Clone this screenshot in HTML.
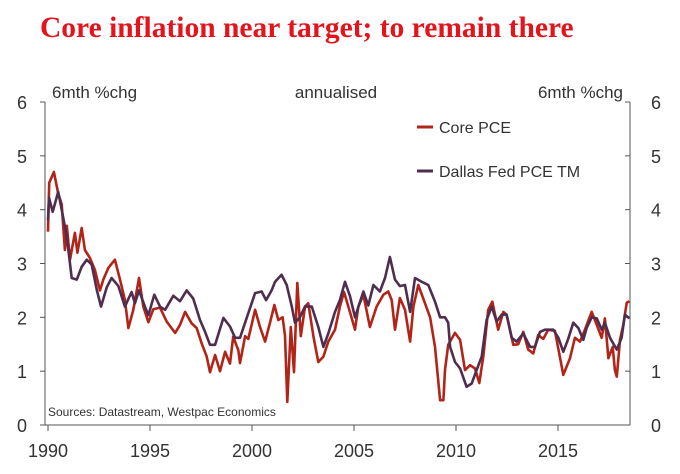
<!DOCTYPE html>
<html><head><meta charset="utf-8"><style>
html,body{margin:0;padding:0;background:#fff;}
svg{display:block;font-family:"Liberation Sans",sans-serif;}
</style></head><body>
<svg id="chart" width="680" height="474" viewBox="0 0 680 474" xmlns="http://www.w3.org/2000/svg">
<text x="40" y="37" font-family="Liberation Serif, serif" font-weight="bold" font-size="29.5" fill="#E3141B">Core inflation near target; to remain there</text>
<text x="52" y="98" font-size="17" fill="#333">6mth %chg</text>
<text x="336" y="98" font-size="17" fill="#333" text-anchor="middle">annualised</text>
<text x="623" y="98" font-size="17" fill="#333" text-anchor="end">6mth %chg</text>
<g id="axes"></g>
<g id="series"></g>
<g>
<line x1="417" y1="127" x2="433" y2="127" stroke="#B22418" stroke-width="3"/>
<text x="439" y="133" font-size="16" fill="#333">Core PCE</text>
<line x1="417" y1="171" x2="433" y2="171" stroke="#4F2D4F" stroke-width="3"/>
<text x="439" y="177" font-size="16" fill="#333">Dallas Fed PCE TM</text>
</g>
<text x="48" y="416" font-size="12" fill="#333">Sources: Datastream, Westpac Economics</text>
</svg>
<script>
const yTicks=[0,1,2,3,4,5,6];
const xTicks=[1990,1995,2000,2005,2010,2015];
const coreDates=[1990.0,1990.06,1990.29,1990.5,1990.67,1990.83,1990.92,1991.08,1991.32,1991.44,1991.65,1991.81,1992.06,1992.3,1992.55,1992.71,1992.96,1993.28,1993.53,1993.77,1993.94,1994.18,1994.46,1994.67,1994.92,1995.16,1995.49,1995.82,1996.23,1996.47,1996.72,1997.04,1997.29,1997.53,1997.78,1997.94,1998.19,1998.43,1998.68,1998.92,1999.08,1999.33,1999.41,1999.66,1999.82,2000.15,2000.39,2000.64,2000.88,2001.1,2001.29,2001.5,2001.62,2001.73,2001.9,2002.06,2002.22,2002.39,2002.6,2002.76,2003.01,2003.25,2003.5,2003.74,2004.07,2004.31,2004.51,2004.8,2005.05,2005.21,2005.46,2005.78,2006.11,2006.44,2006.68,2006.85,2007.01,2007.25,2007.5,2007.75,2007.91,2008.15,2008.48,2008.73,2008.97,2009.22,2009.38,2009.46,2009.62,2009.95,2010.2,2010.44,2010.69,2010.93,2011.14,2011.34,2011.58,2011.78,2012.07,2012.32,2012.48,2012.81,2013.05,2013.3,2013.54,2013.79,2014.03,2014.28,2014.52,2014.85,2015.26,2015.59,2015.83,2016.08,2016.32,2016.65,2016.9,2017.14,2017.3,2017.47,2017.68,2017.79,2017.88,2018.04,2018.2,2018.37,2018.5];
const coreVals=[3.59,4.5,4.7,4.3,4.1,3.25,3.7,3.07,3.57,3.2,3.66,3.25,3.1,2.88,2.5,2.7,2.92,3.07,2.7,2.32,1.8,2.14,2.73,2.2,1.91,2.15,2.18,1.92,1.71,1.86,2.1,1.89,1.8,1.52,1.27,0.98,1.3,1.0,1.36,1.14,1.64,1.39,1.15,1.65,1.6,2.14,1.82,1.55,1.9,2.23,1.95,2.0,1.66,0.43,1.82,0.98,2.64,1.65,2.2,2.26,1.65,1.17,1.27,1.55,1.77,2.2,2.47,2.1,1.77,2.2,2.42,1.82,2.2,2.42,2.48,2.32,1.77,2.36,2.14,1.55,2.2,2.6,2.26,2.0,1.45,0.46,0.46,1.02,1.49,1.71,1.58,1.02,1.11,1.05,0.78,1.27,2.14,2.29,1.77,2.1,2.05,1.49,1.5,1.73,1.4,1.33,1.67,1.6,1.77,1.75,0.93,1.24,1.62,1.55,1.77,2.1,1.86,1.62,1.98,1.24,1.45,1.02,0.9,1.58,1.86,2.27,2.3];
const dallasDates=[1990.0,1990.05,1990.23,1990.5,1990.67,1990.92,1991.16,1991.41,1991.65,1991.9,1992.14,1992.39,1992.6,1992.88,1993.12,1993.45,1993.77,1994.1,1994.26,1994.46,1994.75,1994.92,1995.21,1995.49,1995.74,1996.14,1996.47,1996.8,1997.12,1997.45,1997.7,1997.94,1998.19,1998.6,1998.92,1999.17,1999.41,1999.74,2000.15,2000.47,2000.69,2000.96,2001.13,2001.45,2001.7,2001.95,2002.11,2002.35,2002.6,2002.93,2003.25,2003.5,2003.74,2004.07,2004.31,2004.56,2004.8,2005.05,2005.46,2005.7,2005.95,2006.27,2006.52,2006.76,2007.01,2007.25,2007.5,2007.75,2007.99,2008.32,2008.64,2008.97,2009.22,2009.46,2009.62,2009.71,2009.95,2010.2,2010.52,2010.77,2011.01,2011.26,2011.5,2011.75,2011.99,2012.24,2012.48,2012.73,2012.97,2013.3,2013.63,2013.87,2014.12,2014.36,2014.77,2015.02,2015.26,2015.5,2015.75,2016.0,2016.24,2016.4,2016.65,2016.9,2017.14,2017.3,2017.55,2017.88,2018.12,2018.28,2018.5];
const dallasVals=[3.8,4.22,3.96,4.33,4.0,3.5,2.73,2.7,2.94,3.07,2.98,2.51,2.2,2.56,2.73,2.58,2.2,2.47,2.26,2.5,2.2,2.04,2.42,2.2,2.14,2.4,2.3,2.5,2.35,1.95,1.73,1.49,1.49,1.99,1.83,1.62,1.62,1.99,2.45,2.48,2.32,2.5,2.66,2.79,2.6,2.2,1.9,2.0,2.2,2.2,1.82,1.45,1.7,2.1,2.32,2.66,2.4,2.0,2.48,2.22,2.6,2.48,2.73,3.12,2.7,2.58,2.6,2.1,2.73,2.66,2.6,2.29,2.0,2.0,1.9,1.45,1.17,1.05,0.71,0.77,1.02,1.27,1.95,2.2,1.92,2.05,2.05,1.62,1.55,1.7,1.45,1.45,1.73,1.77,1.77,1.62,1.36,1.6,1.9,1.8,1.58,1.8,2.0,1.98,1.77,1.9,1.62,1.4,1.62,2.05,1.98];

const L=45,R=630,T=102,B=425;
const sx=y=>48+(y-1990)*20.4;
const sy=v=>B-(v/6)*(B-T);
const NS="http://www.w3.org/2000/svg";
const axes=document.getElementById('axes');
function mk(tag,attrs,parent){const e=document.createElementNS(NS,tag);for(const k in attrs)e.setAttribute(k,attrs[k]);parent.appendChild(e);return e;}
let e;
e=mk('line',{x1:L,y1:T,x2:L,y2:B,stroke:'#555','stroke-width':1},axes);


e=mk('line',{x1:R,y1:T,x2:R,y2:B,stroke:'#555','stroke-width':1},axes);


e=mk('line',{x1:40,y1:B,x2:R,y2:B,stroke:'#555','stroke-width':1},axes);


yTicks.forEach(v=>{
  const y=sy(v);
  e=mk('line',{x1:40,y1:y,x2:L,y2:y,stroke:'#555'},axes);
  
  
  e=mk('line',{x1:R-5,y1:y,x2:R,y2:y,stroke:'#555'},axes);
  
  
  e=mk('text',{x:27,y:y+7,'font-size':18,fill:'#333','text-anchor':'end'},axes);
  e.textContent=v;
  
  
  e=mk('text',{x:651,y:y+7,'font-size':18,fill:'#333'},axes);
  e.textContent=v;
  
  
});
xTicks.forEach(t=>{
  const x=sx(t);
  e=mk('line',{x1:x,y1:B,x2:x,y2:B+6,stroke:'#555'},axes);
  
  
  e=mk('text',{x:x,y:B+32,'font-size':18,fill:'#333','text-anchor':'middle'},axes);
  e.textContent=t;
  
  
});
const series=document.getElementById('series');
function line(dates,vals,color,name){
  const d=dates.map((t,i)=>(i?'L':'M')+sx(t).toFixed(1)+','+sy(vals[i]).toFixed(1)).join('');
  const p=mk('path',{d:d,fill:'none',stroke:color,'stroke-width':2.6,'stroke-linejoin':'round'},series);
  
  
}
line(coreDates,coreVals,'#B22418','core-pce-line');
line(dallasDates,dallasVals,'#4F2D4F','dallas-fed-pce-tm-line');
</script>
</body></html>
